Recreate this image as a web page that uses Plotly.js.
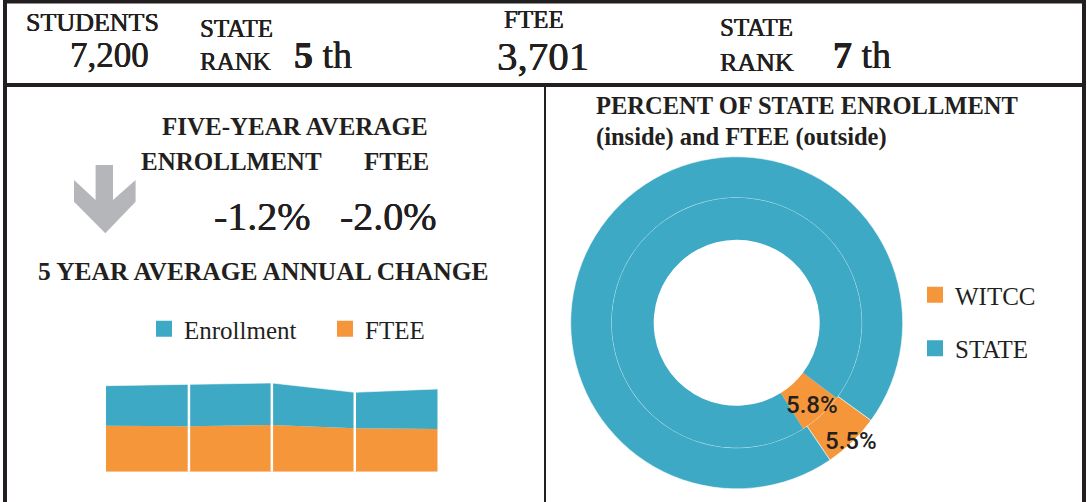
<!DOCTYPE html>
<html><head><meta charset="utf-8">
<script src="https://cdn.plot.ly/plotly-3.0.1.min.js"></script>
<style>html,body{margin:0;padding:0;background:#fff;overflow:hidden;} #chart{width:1087px;height:502px;}</style>
</head><body><div id="chart"></div>
<script>
// ---- data ----
const periods = [1, 2, 3, 4, 5];
const enrollmentBand = [40.0, 42.0, 42.0, 36.0, 40.0];
const fteeBand = [46.0, 45.4, 46.7, 43.4, 42.7];
const shareLabels = ['WITCC', 'STATE'];
const enrollmentShare = [5.8, 94.2];
const fteeShare = [5.5, 94.5];
const studentsTotal = '7,200';
const studentsRank = '5';
const fteeTotal = '3,701';
const fteeRank = '7';
const avgEnrollmentChange = '-1.2%';
const avgFteeChange = '-2.0%';

// ---- style ----
const W = 1087, H = 502;
const BLUE = '#3EA9C5', ORANGE = '#F5963A', DARK = '#231F20', GREY = '#B5B6B9';
const SERIF = 'Liberation Serif';
const SANS = 'Roboto';
const HEAVY = '0.3px 0 0 #231F20, -0.3px 0 0 #231F20';
const px = x => x / W;
const py = y => 1 - y / H;

// donut geometry (pixels)
const CX = 736.7, CY = 322.8;
const R_OUT = 166, R_MID = 125, R_IN = 83;
const dom = r => ({x: [px(CX - r), px(CX + r)], y: [py(CY + r), py(CY - r)]});
const ROT_OUT = 126, ROT_IN = 127;

function ann(text, x, y, size, extra) {
  const bold = /^<b>.*<\/b>$/.test(text);
  return Object.assign({
    text: text, x: px(x), y: py(y), xref: 'paper', yref: 'paper',
    xanchor: 'left', yanchor: 'middle', showarrow: false,
    font: {family: SERIF, size: size, color: DARK, shadow: bold ? 'none' : HEAVY}
  }, extra || {});
}
function sliceLabel(values, rotation, r) {
  const total = values.reduce((a, b) => a + b, 0);
  const th = (rotation + values[0] / total * 180) * Math.PI / 180;
  return {x: CX + r * Math.sin(th), y: CY - r * Math.cos(th)};
}

const traces = [
  {type: 'scatter', x: periods, y: fteeBand, name: 'FTEE', stackgroup: 'one', mode: 'lines',
   line: {width: 0, color: ORANGE}, fillcolor: ORANGE, showlegend: false, legendgroup: 'ftee', hoverinfo: 'x+y'},
  {type: 'scatter', x: periods, y: enrollmentBand, name: 'Enrollment', stackgroup: 'one', mode: 'lines',
   line: {width: 1, color: 'rgba(255,255,255,0.6)'}, fillcolor: BLUE, showlegend: false, legendgroup: 'enr', hoverinfo: 'x+y'},
  {type: 'pie', name: 'FTEE', labels: shareLabels, values: fteeShare, hole: R_MID / R_OUT, domain: dom(R_OUT),
   marker: {colors: [ORANGE, BLUE], line: {color: 'rgba(255,255,255,0.55)', width: 1}},
   sort: false, direction: 'clockwise', rotation: ROT_OUT, textinfo: 'none', showlegend: false},
  {type: 'pie', name: 'Enrollment', labels: shareLabels, values: enrollmentShare, hole: R_IN / R_MID, domain: dom(R_MID),
   marker: {colors: [ORANGE, BLUE], line: {width: 0}},
   sort: false, direction: 'clockwise', rotation: ROT_IN, textinfo: 'none', showlegend: false},
  // legend entries
  {type: 'scatter', x: [null], y: [null], mode: 'markers', name: 'Enrollment', legendgroup: 'enr', legend: 'legend',
   marker: {symbol: 'square', size: 16, color: BLUE}, hoverinfo: 'skip'},
  {type: 'scatter', x: [null], y: [null], mode: 'markers', name: 'FTEE', legendgroup: 'ftee', legend: 'legend',
   marker: {symbol: 'square', size: 16, color: ORANGE}, hoverinfo: 'skip'},
  {type: 'scatter', x: [null], y: [null], mode: 'markers', name: shareLabels[0], legendgroup: 'w', legend: 'legend2',
   marker: {symbol: 'square', size: 16, color: ORANGE}, hoverinfo: 'skip'},
  {type: 'scatter', x: [null], y: [null], mode: 'markers', name: shareLabels[1], legendgroup: 's', legend: 'legend2',
   marker: {symbol: 'square', size: 16, color: BLUE}, hoverinfo: 'skip'}
];

// separators between periods
const shapes = [];
for (let i = 1; i < periods.length - 1; i++) {
  shapes.push({type: 'line', xref: 'x', yref: 'y', x0: periods[i], x1: periods[i], y0: 0,
    y1: fteeBand[i] + enrollmentBand[i] + 0.5, line: {color: '#FFFFFF', width: 2.5}, layer: 'above'});
}
// frames
shapes.push({type: 'rect', xref: 'paper', yref: 'paper', x0: px(5), x1: px(1084), y0: py(85), y1: py(1.5),
  line: {color: DARK, width: 4}});
shapes.push({type: 'line', xref: 'paper', yref: 'paper', x0: px(5), x1: px(5), y0: py(85), y1: -0.01, line: {color: DARK, width: 4}});
shapes.push({type: 'line', xref: 'paper', yref: 'paper', x0: px(1084), x1: px(1084), y0: py(85), y1: -0.01, line: {color: DARK, width: 4}});
shapes.push({type: 'line', xref: 'paper', yref: 'paper', x0: px(545), x1: px(545), y0: py(86), y1: -0.01, line: {color: DARK, width: 2}});
// down arrow
const arrowPts = [[95.6,165],[113,165],[113,200],[135.6,180],[135.6,201.7],[105.3,233.3],[74,201.7],[74,180],[95.6,200]];
shapes.push({type: 'path', xref: 'paper', yref: 'paper', fillcolor: GREY, line: {width: 0},
  path: 'M' + arrowPts.map(p => px(p[0]).toFixed(5) + ',' + py(p[1]).toFixed(5)).join('L') + 'Z'});

const inLab = sliceLabel(enrollmentShare, ROT_IN, 111);
const outLab = sliceLabel(fteeShare, ROT_OUT, 164);

const annotations = [
  ann('STUDENTS', 24, 22.5, 26),
  ann(studentsTotal, 68, 55.2, 35),
  ann('STATE', 198, 28.5, 25),
  ann('RANK', 198, 61, 25),
  ann('<b>' + studentsRank + '</b> th', 292, 55.2, 38),
  ann('FTEE', 502, 20, 25),
  ann(fteeTotal, 495, 55.5, 41),
  ann('STATE', 718, 27.5, 25),
  ann('RANK', 718, 62, 26),
  ann('<b>' + fteeRank + '</b> th', 831, 55.2, 38),
  ann('<b>FIVE-YEAR AVERAGE</b>', 160, 126.6, 25),
  ann('<b>ENROLLMENT</b>', 139, 161.6, 25),
  ann('<b>FTEE</b>', 362, 161.6, 25),
  ann(avgEnrollmentChange, 212, 216.5, 40),
  ann(avgFteeChange, 338, 216.5, 40),
  ann('<b>5 YEAR AVERAGE ANNUAL CHANGE</b>', 36, 271.4, 25.5),
  ann('<b>PERCENT OF STATE ENROLLMENT</b>', 594, 105.7, 24.5),
  ann('<b>(inside) and FTEE (outside)</b>', 594, 136.7, 24.5),
  ann(enrollmentShare[0].toFixed(1) + '%', inLab.x, inLab.y, 24,
      {xanchor: 'center', font: {family: SANS, size: 24, color: DARK, weight: 500}}),
  ann(fteeShare[0].toFixed(1) + '%', outLab.x, outLab.y, 24,
      {xanchor: 'center', font: {family: SANS, size: 24, color: DARK, weight: 500}})
];

const layout = {
  width: W, height: H, margin: {l: 0, r: 0, t: 0, b: 0},
  paper_bgcolor: '#FFFFFF', plot_bgcolor: 'rgba(0,0,0,0)',
  font: {family: SERIF, color: DARK},
  showlegend: true,
  xaxis: {domain: [px(106), px(437.7)], range: [periods[0], periods[periods.length - 1]], visible: false, fixedrange: true},
  yaxis: {domain: [py(471.7), py(371.7)], range: [0, 100], visible: false, fixedrange: true},
  legend: {orientation: 'h', x: px(144), xanchor: 'left', y: py(329), yanchor: 'middle',
    font: {family: SERIF, size: 25, color: DARK}, bgcolor: 'rgba(0,0,0,0)',
    entrywidth: 136, entrywidthmode: 'pixels', traceorder: 'normal'},
  legend2: {orientation: 'v', x: px(915), xanchor: 'left', y: py(321.5), yanchor: 'middle',
    font: {family: SERIF, size: 25, color: DARK}, bgcolor: 'rgba(0,0,0,0)', tracegroupgap: 18},
  shapes: shapes,
  annotations: annotations
};

Plotly.newPlot('chart', traces, layout, {displayModeBar: false, responsive: false});
</script>
</body></html>
